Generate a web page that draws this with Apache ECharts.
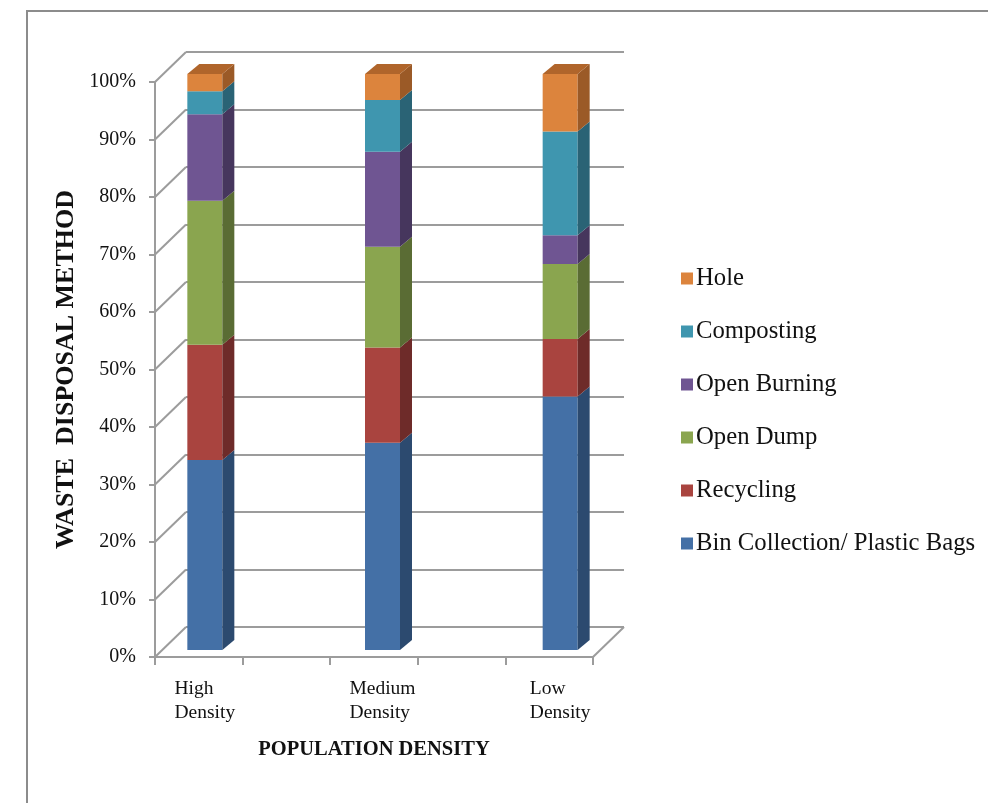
<!DOCTYPE html>
<html><head><meta charset="utf-8">
<script src="https://cdn.jsdelivr.net/npm/echarts@6/dist/echarts.min.js"></script>
<style>html,body{margin:0;padding:0;background:#fff}#c{width:988px;height:803px}</style>
</head><body><div id="c"></div>
<script>
// ---- data ----
const categories = ['High\nDensity', 'Medium\nDensity', 'Low\nDensity'];
const seriesNames = ['Bin Collection/ Plastic Bags', 'Recycling', 'Open Dump', 'Open Burning', 'Composting', 'Hole'];
const binCollection = [33, 36, 44];
const recycling = [20, 16.5, 10];
const openDump = [25, 17.5, 13];
const openBurning = [15, 16.5, 5];
const composting = [4, 9, 18];
const hole = [3, 4.5, 10];
const yTicks = [0, 10, 20, 30, 40, 50, 60, 70, 80, 90, 100];

// ---- styles ----
const frontColors = ['#4470a6', '#a9443f', '#8aa54f', '#6f5592', '#3f96af', '#dc843d'];
const sideColors = ['#2c4a6f', '#6e2b29', '#5a6c34', '#46365d', '#2a6375', '#9b5a27'];
const topColors = ['#36598a', '#8a3734', '#718a40', '#5a4578', '#33798e', '#b0652b'];
const FONT = "'Liberation Serif', 'DejaVu Serif', serif";
const GRID_COLOR = '#9c9c9c';
const DX = 31, DY = -30;      // wall depth
const BDX = 12, BDY = -10;    // bar depth
const BAR_W = 35;

const allValues = [binCollection, recycling, openDump, openBurning, composting, hole];

const chart = echarts.init(document.getElementById('c'), null, {renderer: 'canvas'});

const barSeries = allValues.map((vals, si) => {
  const data = vals.map((v, ci) => {
    let base = 0;
    for (let k = 0; k < si; k++) base += allValues[k][ci];
    return [ci, v, base];
  });
  return {
    name: seriesNames[si],
    type: 'custom',
    xAxisIndex: 2, yAxisIndex: 2,
    itemStyle: {color: frontColors[si]},
    data: data,
    z: 10,
    renderItem: function (params, api) {
      const ci = api.value(0), v = api.value(1), base = api.value(2);
      const pb = api.coord([ci, base]);
      const pt = api.coord([ci, base + v]);
      const x0 = pb[0] - BAR_W / 2, x1 = pb[0] + BAR_W / 2;
      const children = [
        {type: 'rect', shape: {x: x0, y: pt[1], width: BAR_W, height: pb[1] - pt[1]},
         style: {fill: frontColors[si]}},
        {type: 'polygon', shape: {points: [[x1, pt[1]], [x1, pb[1]], [x1 + BDX, pb[1] + BDY], [x1 + BDX, pt[1] + BDY]]},
         style: {fill: sideColors[si]}}
      ];
      if (si === allValues.length - 1) {
        children.push({type: 'polygon', shape: {points: [[x0, pt[1]], [x1, pt[1]], [x1 + BDX, pt[1] + BDY], [x0 + BDX, pt[1] + BDY]]},
          style: {fill: topColors[si]}});
      }
      return {type: 'group', children: children};
    }
  };
});

const connectorData = yTicks.map(v => [0, v]).concat([[5, 0]]);

const option = {
  animation: false,
  backgroundColor: '#fff',
  graphic: [{
    type: 'rect', shape: {x: 27, y: 11, width: 1100, height: 1000},
    style: {fill: 'none', stroke: '#8c8c8c', lineWidth: 2}, silent: true
  }],
  legend: {
    orient: 'vertical', left: 676, top: 261,
    itemWidth: 12, itemHeight: 12, itemGap: 28, icon: 'rect',
    data: seriesNames.slice().reverse().map((n, i) => ({name: n, itemStyle: {color: frontColors[seriesNames.length - 1 - i]}})),
    textStyle: {fontFamily: FONT, fontSize: 24.7, color: '#111', padding: [0, 0, 0, -2]}
  },
  grid: [
    {left: 155, top: 82, width: 438, height: 575},   // front axis / floor
    {left: 186, top: 52, width: 438, height: 575},   // back wall
    {left: 116, top: 74, width: 533, height: 576}    // bars
  ],
  xAxis: [
    {gridIndex: 0, type: 'value', min: 0, max: 5, interval: 1,
     axisLine: {show: true, lineStyle: {color: GRID_COLOR, width: 2}},
     axisTick: {show: true, length: 8, lineStyle: {color: GRID_COLOR, width: 2}},
     axisLabel: {show: false}, splitLine: {show: false},
     name: 'POPULATION DENSITY', nameLocation: 'middle', nameGap: 82,
     nameTextStyle: {fontFamily: FONT, fontWeight: 'bold', fontSize: 20.5, color: '#111'}},
    {gridIndex: 1, type: 'value', min: 0, max: 5, show: false},
    {gridIndex: 2, type: 'category', data: categories,
     axisLine: {show: false}, axisTick: {show: false},
     axisLabel: {margin: 27, color: '#111', fontFamily: FONT, fontSize: 19.5, lineHeight: 24,
       formatter: v => v.split('\n').map(s => '{a|' + s + '}').join('\n'),
       rich: {a: {align: 'left', fontFamily: FONT, fontSize: 19.5, lineHeight: 24, color: '#111'}}}}
  ],
  yAxis: [
    {gridIndex: 0, type: 'value', min: 0, max: 100, interval: 10,
     axisLine: {show: true, lineStyle: {color: GRID_COLOR, width: 2}},
     axisTick: {show: true, length: 6, lineStyle: {color: GRID_COLOR, width: 2}},
     splitLine: {show: false},
     axisLabel: {formatter: '{value}%', margin: 19, fontFamily: FONT, fontSize: 20, color: '#111'},
     name: 'WASTE  DISPOSAL METHOD', nameLocation: 'middle', nameGap: 76, nameRotate: 90,
     nameTextStyle: {fontFamily: FONT, fontWeight: 'bold', fontSize: 26, color: '#111'}},
    {gridIndex: 1, type: 'value', min: 0, max: 100, interval: 10,
     axisLine: {show: false}, axisTick: {show: false}, axisLabel: {show: false},
     splitLine: {show: true, lineStyle: {color: GRID_COLOR, width: 2}}},
    {gridIndex: 2, type: 'value', min: 0, max: 100, show: false}
  ],
  series: [{
    type: 'custom', xAxisIndex: 0, yAxisIndex: 0, silent: true, z: 1,
    data: connectorData,
    renderItem: function (params, api) {
      const p = api.coord([api.value(0), api.value(1)]);
      return {type: 'line', shape: {x1: p[0], y1: p[1], x2: p[0] + DX, y2: p[1] + DY},
        style: {stroke: GRID_COLOR, lineWidth: 2}};
    }
  }].concat(barSeries)
};
chart.setOption(option);
</script></body></html>
